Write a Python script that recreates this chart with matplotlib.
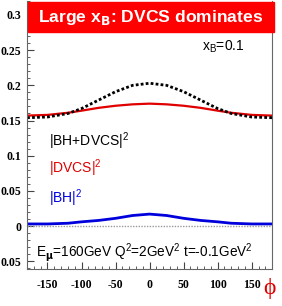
import numpy as np
import matplotlib.pyplot as plt
from matplotlib.ticker import MultipleLocator
from matplotlib.patches import Rectangle

# values
phi = [-180, -150, -120, -100, -75, -50, -25, 0, 25, 50, 75, 100, 120, 150, 180]
bh_dvcs = [0.154, 0.155, 0.160, 0.167, 0.179, 0.191, 0.200, 0.203, 0.200, 0.191, 0.179, 0.167, 0.160, 0.155, 0.154]
dvcs = [0.157, 0.158, 0.161, 0.164, 0.168, 0.171, 0.173, 0.174, 0.173, 0.171, 0.168, 0.164, 0.161, 0.158, 0.157]
bh = [0.003, 0.003, 0.004, 0.006, 0.008, 0.011, 0.015, 0.017, 0.015, 0.011, 0.008, 0.006, 0.004, 0.003, 0.003]

plt.rcParams['font.family'] = ['Liberation Sans', 'DejaVu Sans']
plt.rcParams['axes.unicode_minus'] = False

fig = plt.figure(figsize=(2.82, 3.06), dpi=100)
ax = fig.add_axes([0.096, 0.121, 0.869, 0.876])

ax.axhline(0, color='#999999', lw=1.0, ls=(0, (1, 1)))
ax.plot(phi, dvcs, color='#e00000', lw=1.6)
ax.plot(phi, bh_dvcs, color='black', lw=2.0, ls=(0, (1, 0.8)))
ax.plot(phi, bh, color='#0000dd', lw=2.0)

ax.set_xlim(-180, 180)
ax.set_ylim(-0.061, 0.32)
ax.set_xticks([-150, -100, -50, 0, 50, 100, 150])
ax.set_yticks([-0.05, 0, 0.05, 0.1, 0.15, 0.2, 0.25, 0.3])
ax.set_yticklabels(['0.05', '0', '0.05', '0.1', '0.15', '0.2', '0.25', '0.3'])
ax.xaxis.set_minor_locator(MultipleLocator(10))
ax.yaxis.set_minor_locator(MultipleLocator(0.01))
ax.tick_params(which='both', direction='in', top=False, right=False, colors='#444444',
               labelcolor='black')
ax.tick_params(axis='x', pad=7)
ax.tick_params(axis='y', pad=4)
ax.tick_params(which='major', length=5)
ax.tick_params(which='minor', length=2.5)
for lab in ax.get_xticklabels() + ax.get_yticklabels():
    lab.set_family('Liberation Serif')
    lab.set_fontweight('bold')
    lab.set_fontsize(8.5)
ax.spines['top'].set_visible(False)
for s in ['left', 'bottom', 'right']:
    ax.spines[s].set_color('#666666')

# red banner
fig.patches.append(Rectangle((0.099, 0.895), 0.873, 0.098, transform=fig.transFigure,
                             color='#ff0000', zorder=5))
fig.text(0.535, 0.944, r'Large x$_\mathbf{B}$: DVCS dominates', color='white',
         fontsize=12.6, fontweight='bold', ha='center', va='center', zorder=6)

ax.text(0.8, 0.83, r'x$_\mathregular{B}$=0.1', transform=ax.transAxes, fontsize=10,
        ha='center', va='center')
ax.text(0.09, 0.475, r'|BH+DVCS|$^\mathregular{2}$', transform=ax.transAxes, fontsize=10,
        va='center')
ax.text(0.09, 0.375, r'|DVCS|$^\mathregular{2}$', transform=ax.transAxes, fontsize=10,
        color='#e00000', va='center')
ax.text(0.09, 0.265, r'|BH|$^\mathregular{2}$', transform=ax.transAxes, fontsize=10,
        color='#0000dd', va='center')
ax.text(0.035, 0.06, r'E$_\mathbf{\mu}$=160GeV Q$^\mathregular{2}$=2GeV$^\mathregular{2}$ t=-0.1GeV$^\mathregular{2}$',
        transform=ax.transAxes, fontsize=9.8, va='center')
fig.text(0.957, 0.058, 'ϕ', color='#e00000', fontsize=17, ha='center', va='center',
         family=['Liberation Serif', 'DejaVu Serif'])

fig.savefig('out.png', dpi=100)
